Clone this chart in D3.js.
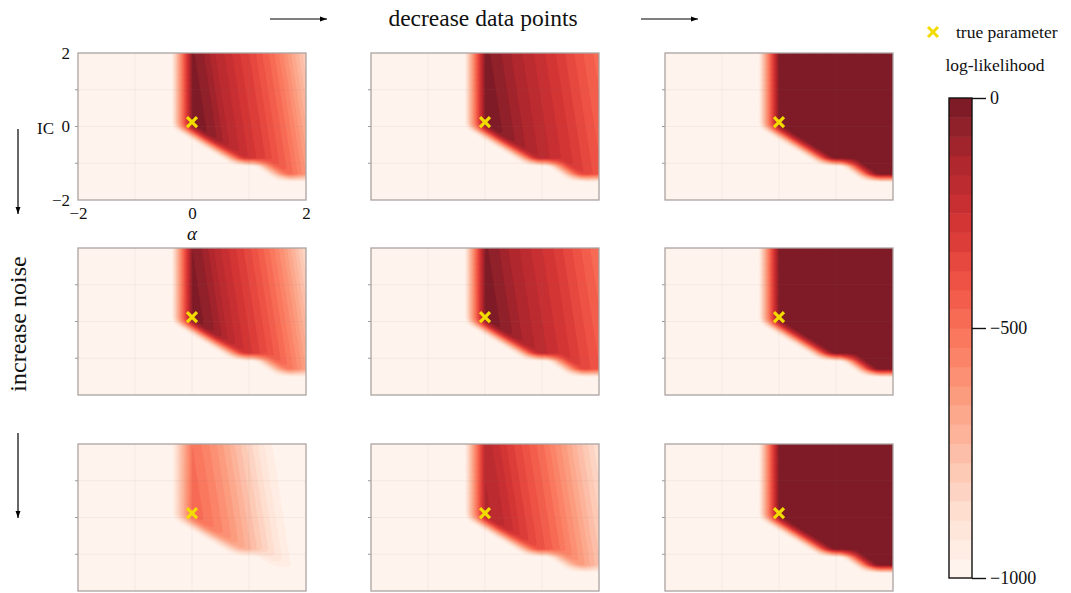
<!DOCTYPE html>
<html>
<head>
<meta charset="utf-8">
<script src="https://cdn.jsdelivr.net/npm/d3@7"></script>
<style>
  html, body { margin: 0; background: #fff; }
  text { font-family: "Liberation Serif", "Times New Roman", serif; fill: #111; }
</style>
</head>
<body>
<svg id="fig" width="1071" height="593"></svg>
<script>
// ---- axes / ticks ----
const alphaTicks = [-2, 0, 2];
const icTicks = [-2, 0, 2];
const gridTicks = [-1, 0, 1];
const colorbarTicks = [0, -500, -1000];

// ---- log-likelihood profiles, read along alpha at IC = 2 ----
const profileAlpha = [-0.4, -0.2, 0, 0.2, 0.4, 0.6, 0.8, 1.0, 1.2, 1.4, 1.6, 1.8, 2.0];

// row 1: low noise
const llNoiseLowMany  = [-20, -30, -30, -80, -160, -210, -270, -320, -390, -460, -560, -680, -800];
const llNoiseLowMid   = [-20, -20, -25, -60, -110, -150, -190, -230, -270, -320, -370, -420, -460];
const llNoiseLowFew   = [-10, -10, -10, -10, -10, -10, -10, -10, -10, -10, -10, -10, -10];
// row 2: medium noise
const llNoiseMidMany  = [-20, -30, -40, -90, -170, -230, -290, -350, -420, -500, -600, -720, -850];
const llNoiseMidMid   = [-20, -20, -30, -70, -120, -160, -200, -240, -280, -330, -380, -430, -480];
const llNoiseMidFew   = [-10, -10, -10, -10, -10, -10, -10, -10, -10, -10, -10, -10, -10];
// row 3: high noise
const llNoiseHighMany = [-460, -460, -480, -530, -590, -660, -740, -820, -900, -960, -990, -1000, -1000];
const llNoiseHighMid  = [-150, -150, -170, -220, -290, -350, -410, -470, -550, -630, -720, -800, -880];
const llNoiseHighFew  = [-10, -10, -10, -10, -10, -10, -10, -10, -10, -10, -10, -10, -10];

// boundary of the region where the likelihood is defined (alpha, IC)
const regionAlpha = [-0.18, -0.18, 0.85, 1.2, 1.6, 3, 3];
const regionIC    = [3, 0.0, -0.97, -0.97, -1.39, -1.39, 3];

const trueParam = { alpha: 0, ic: 0.12 };

const panelRows = [
  [llNoiseLowMany, llNoiseLowMid, llNoiseLowFew],
  [llNoiseMidMany, llNoiseMidMid, llNoiseMidFew],
  [llNoiseHighMany, llNoiseHighMid, llNoiseHighFew]
];

// ---- layout ----
const colX = [78, 371, 665];
const rowY = [53, 248, 444];
const PW = 228, PH = 147;
const NB = 25;                // number of filled levels
const NX = 160, NY = 120;     // sampling grid
const SLANT = 0.1;            // contour tilt (alpha shift per IC unit)
const LLMIN = -1000, LLMAX = 0;

const svg = d3.select("#fig");

const xScale = d3.scaleLinear().domain([-2, 2]).range([0, PW]);
const yScale = d3.scaleLinear().domain([-2, 2]).range([PH, 0]);

const bandColors = d3.range(NB).map(i =>
  d3.interpolateRgb("#ffffff", d3.interpolateReds((i + 0.5) / NB))(0.9));
const color = d3.scaleQuantize().domain([LLMIN, LLMAX]).range(bandColors);

// separable box blur (clamped borders)
function boxBlur(a, w, h, rx, ry) {
  const tmp = new Float64Array(a.length);
  for (let j = 0; j < h; j++) {
    for (let i = 0; i < w; i++) {
      let s = 0;
      for (let k = -rx; k <= rx; k++) s += a[j * w + Math.min(w - 1, Math.max(0, i + k))];
      tmp[j * w + i] = s / (2 * rx + 1);
    }
  }
  for (let j = 0; j < h; j++) {
    for (let i = 0; i < w; i++) {
      let s = 0;
      for (let k = -ry; k <= ry; k++) s += tmp[Math.min(h - 1, Math.max(0, j + k)) * w + i];
      a[j * w + i] = s / (2 * ry + 1);
    }
  }
}

const region = regionAlpha.map((a, i) => [a, regionIC[i]]);
const gAlpha = d3.scaleLinear().domain([0, NX]).range([-2, 2]);
const gIC = d3.scaleLinear().domain([0, NY]).range([2, -2]);

function likelihoodField(profile) {
  const prof = d3.scaleLinear().domain(profileAlpha).range(profile).clamp(true);
  const mask = new Float64Array(NX * NY);
  for (let j = 0; j < NY; j++)
    for (let i = 0; i < NX; i++)
      mask[j * NX + i] = d3.polygonContains(region, [gAlpha(i + 0.5), gIC(j + 0.5)]) ? 1 : 0;
  boxBlur(mask, NX, NY, 7, 3);
  const v = new Array(NX * NY);
  for (let j = 0; j < NY; j++)
    for (let i = 0; i < NX; i++) {
      const a = gAlpha(i + 0.5), c = gIC(j + 0.5);
      const ll = prof(a - SLANT * (2 - c));
      v[j * NX + i] = LLMIN + (ll - LLMIN) * mask[j * NX + i];
    }
  return v;
}

const thresholds = d3.range(1, NB).map(i => LLMIN + i * (LLMAX - LLMIN) / NB);
const sx = PW / NX, sy = PH / NY;
const gridPath = d3.geoPath(d3.geoTransform({
  point(x, y) { this.stream.point(x * sx, y * sy); }
}));

const defs = svg.append("defs");
defs.append("clipPath").attr("id", "panelClip")
  .append("rect").attr("width", PW).attr("height", PH);

function drawCross(g, x, y, r, w) {
  g.append("path")
    .attr("d", `M${x - r},${y - r}L${x + r},${y + r}M${x - r},${y + r}L${x + r},${y - r}`)
    .attr("stroke", "#f2dc00").attr("stroke-width", w).attr("fill", "none");
}

const numFmt = d3.format("d");

panelRows.forEach((row, ri) => {
  row.forEach((profile, ci) => {
    const g = svg.append("g").attr("transform", `translate(${colX[ci]},${rowY[ri]})`);
    const body = g.append("g").attr("clip-path", "url(#panelClip)");
    body.append("rect").attr("width", PW).attr("height", PH).attr("fill", bandColors[0]);
    const values = likelihoodField(profile);
    const bands = d3.contours().size([NX, NY]).thresholds(thresholds)(values);
    body.selectAll("path.band").data(bands).join("path")
      .attr("class", "band")
      .attr("d", gridPath)
      .attr("fill", d => color(d.value + 1))
      .attr("stroke", d => color(d.value + 1))
      .attr("stroke-width", 0.3);
    // faint grid
    body.selectAll("line.gx").data(gridTicks).join("line")
      .attr("x1", d => xScale(d)).attr("x2", d => xScale(d))
      .attr("y1", 0).attr("y2", PH)
      .attr("stroke", "#8a7f7a").attr("stroke-opacity", 0.08).attr("stroke-width", 1);
    body.selectAll("line.gy").data(gridTicks).join("line")
      .attr("y1", d => yScale(d)).attr("y2", d => yScale(d))
      .attr("x1", 0).attr("x2", PW)
      .attr("stroke", "#8a7f7a").attr("stroke-opacity", 0.08).attr("stroke-width", 1);
    // small left ticks
    g.selectAll("line.tk").data(gridTicks).join("line")
      .attr("x1", -3).attr("x2", 0)
      .attr("y1", d => yScale(d)).attr("y2", d => yScale(d))
      .attr("stroke", "#999").attr("stroke-width", 1);
    // frame
    g.append("rect").attr("width", PW).attr("height", PH)
      .attr("fill", "none").attr("stroke", "#aba4a1").attr("stroke-width", 1.3);
    // true parameter
    drawCross(g, xScale(trueParam.alpha), yScale(trueParam.ic), 5, 3.2);

    if (ri === 0 && ci === 0) {
      const ay = g.append("g").call(d3.axisLeft(yScale).tickValues(icTicks)
        .tickFormat(numFmt).tickSize(0).tickPadding(8));
      ay.select(".domain").remove();
      ay.selectAll("text").style("font-size", "17px").style("font-family", '"Liberation Serif", serif').attr("fill", "#111");
      const ax = g.append("g").attr("transform", `translate(0,${PH})`)
        .call(d3.axisBottom(xScale).tickValues(alphaTicks).tickFormat(numFmt).tickSize(0).tickPadding(7));
      ax.select(".domain").remove();
      ax.selectAll("text").style("font-size", "17px").style("font-family", '"Liberation Serif", serif').attr("fill", "#111");
      g.append("text").attr("x", -24).attr("y", yScale(0) + 2).attr("dy", "0.32em")
        .attr("text-anchor", "end").style("font-size", "17px").text("IC");
      g.append("text").attr("x", xScale(0)).attr("y", PH + 40)
        .attr("text-anchor", "middle").style("font-size", "19px").style("font-style", "italic").text("α");
    }
  });
});

// ---- direction annotations ----
defs.append("marker").attr("id", "ah").attr("viewBox", "0 0 10 10")
  .attr("refX", 10).attr("refY", 5).attr("markerWidth", 7).attr("markerHeight", 7)
  .attr("markerUnits", "userSpaceOnUse").attr("orient", "auto")
  .append("path").attr("d", "M0,1.5L10,5L0,8.5Z").attr("fill", "#000");

function arrow(x1, y1, x2, y2) {
  svg.append("line").attr("x1", x1).attr("y1", y1).attr("x2", x2).attr("y2", y2)
    .attr("stroke", "#000").attr("stroke-width", 1.2).attr("marker-end", "url(#ah)");
}
arrow(270, 19, 327, 19);
arrow(641, 19, 698, 19);
svg.append("text").attr("x", 483).attr("y", 26).attr("text-anchor", "middle")
  .style("font-size", "23.5px").text("decrease data points");

arrow(18, 129, 18, 214);
arrow(18, 433, 18, 518);
svg.append("text").attr("transform", "translate(26,324) rotate(-90)")
  .attr("text-anchor", "middle").style("font-size", "24px").text("increase noise");

// ---- legend ----
drawCross(svg, 933, 32, 5, 3);
svg.append("text").attr("x", 956).attr("y", 32).attr("dy", "0.32em")
  .style("font-size", "17.5px").text("true parameter");
svg.append("text").attr("x", 995).attr("y", 65).attr("dy", "0.32em")
  .attr("text-anchor", "middle").style("font-size", "17.5px").text("log-likelihood");

// ---- colorbar ----
const cbX = 949, cbW = 23, cbTop = 98, cbBot = 578;
const cbBand = d3.scaleLinear().domain([0, NB]).range([cbBot, cbTop]);
const cbScale = d3.scaleLinear().domain([-1000, -500, 0]).range([cbBot, 328, cbTop]);
svg.append("g").selectAll("rect").data(bandColors).join("rect")
  .attr("x", cbX).attr("width", cbW)
  .attr("y", (d, i) => cbBand(i + 1)).attr("height", (d, i) => cbBand(i) - cbBand(i + 1) + 0.5)
  .attr("fill", d => d);
svg.append("rect").attr("x", cbX).attr("y", cbTop).attr("width", cbW).attr("height", cbBot - cbTop)
  .attr("fill", "none").attr("stroke", "#111").attr("stroke-width", 1.4);
const cbAxis = svg.append("g").attr("transform", `translate(${cbX + cbW},0)`)
  .call(d3.axisRight(cbScale).tickValues(colorbarTicks).tickSize(14).tickPadding(4).tickFormat(numFmt));
cbAxis.select(".domain").remove();
cbAxis.selectAll("line").attr("stroke", "#111").attr("stroke-width", 1.4);
cbAxis.selectAll("text").style("font-size", "18px").style("font-family", '"Liberation Serif", serif').attr("fill", "#111");
</script>
</body>
</html>
